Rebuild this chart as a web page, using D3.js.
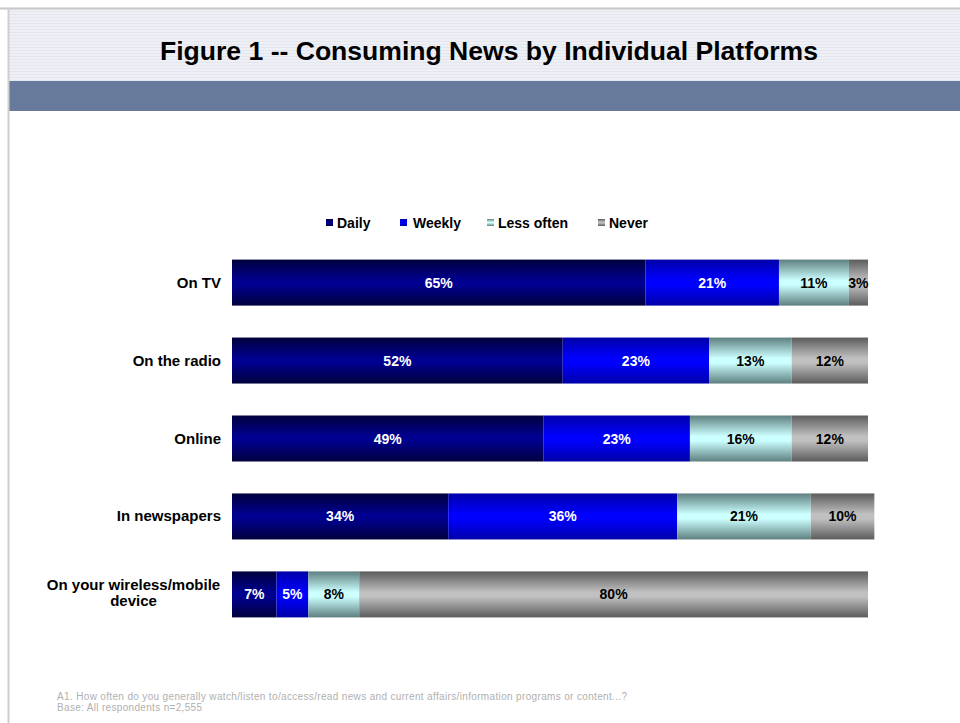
<!DOCTYPE html>
<html>
<head>
<meta charset="utf-8">
<script src="https://cdn.jsdelivr.net/npm/d3@7/dist/d3.min.js"></script>
<style>
  html, body { margin: 0; padding: 0; background: #fff; }
  svg { display: block; font-family: "Liberation Sans", Arial, sans-serif; }
</style>
</head>
<body>
<svg id="chart" width="960" height="723"></svg>
<script>
// Survey platforms (top to bottom)
const categories = ["On TV", "On the radio", "Online", "In newspapers", "On your wireless/mobile device"];
const seriesNames = ["Daily", "Weekly", "Less often", "Never"];
// Share of respondents (%) per frequency
const daily     = [65, 52, 49, 34, 7];
const weekly    = [21, 23, 23, 36, 5];
const lessOften = [11, 13, 16, 21, 8];
const never     = [3, 12, 12, 10, 80];

const seriesValues = [daily, weekly, lessOften, never];
const rows = categories.map((c, i) => {
  const r = { category: c };
  seriesNames.forEach((s, k) => r[s] = seriesValues[k][i]);
  return r;
});

const svg = d3.select("#chart");
const W = 960, H = 723;

// Page frame and header
svg.append("rect").attr("x", 0).attr("y", 0).attr("width", W).attr("height", H).attr("fill", "#fff");

const defs = svg.append("defs");
const stripe = defs.append("pattern").attr("id", "hdrStripe")
  .attr("patternUnits", "userSpaceOnUse").attr("width", 4).attr("height", 3);
stripe.append("rect").attr("width", 4).attr("height", 3).attr("fill", "#eef0f5");
stripe.append("rect").attr("y", 2).attr("width", 4).attr("height", 1).attr("fill", "#e3e6ee");

svg.append("rect").attr("x", 8).attr("y", 9).attr("width", W - 8).attr("height", 72).attr("fill", "url(#hdrStripe)");
svg.append("rect").attr("x", 8).attr("y", 81).attr("width", W - 8).attr("height", 30).attr("fill", "#677a9b");
svg.append("line").attr("x1", 0).attr("x2", W).attr("y1", 8.5).attr("y2", 8.5).attr("stroke", "#c8c8c8").attr("stroke-width", 2);
svg.append("line").attr("x1", 8.5).attr("x2", 8.5).attr("y1", 8).attr("y2", H).attr("stroke", "#cfcfcf").attr("stroke-width", 2);

svg.append("text")
  .attr("x", 489).attr("y", 60)
  .attr("text-anchor", "middle")
  .attr("font-size", 25).attr("font-weight", "bold").attr("fill", "#000")
  .attr("textLength", 658).attr("lengthAdjust", "spacingAndGlyphs")
  .text("Figure 1 -- Consuming News by Individual Platforms");

// Bar fills: vertical shading, darker at edges
const fills = {
  "Daily":      ["#00003c", "#000090"],
  "Weekly":     ["#0000a8", "#0000ff"],
  "Less often": ["#5e7f7f", "#ccffff"],
  "Never":      ["#5c5c5c", "#c0c0c0"]
};
seriesNames.forEach((s, k) => {
  const g = defs.append("linearGradient").attr("id", "g" + k)
    .attr("x1", 0).attr("x2", 0).attr("y1", 0).attr("y2", 1);
  const [edge, mid] = fills[s];
  g.append("stop").attr("offset", "0%").attr("stop-color", edge);
  g.append("stop").attr("offset", "45%").attr("stop-color", mid);
  g.append("stop").attr("offset", "55%").attr("stop-color", mid);
  g.append("stop").attr("offset", "100%").attr("stop-color", edge);
});

const x = d3.scaleLinear().domain([0, 100]).range([232, 868]);
const y = d3.scaleBand().domain(categories).range([244, 633]).paddingInner(0.41).paddingOuter(0.2);

const stack = d3.stack().keys(seriesNames)(rows);
const labelColor = ["#fff", "#fff", "#000", "#000"];

const layers = svg.append("g").selectAll("g").data(stack).join("g")
  .attr("fill", (d, k) => `url(#g${k})`);

layers.selectAll("rect").data(d => d).join("rect")
  .attr("x", d => x(d[0]))
  .attr("y", d => y(d.data.category))
  .attr("width", d => x(d[1]) - x(d[0]))
  .attr("height", y.bandwidth());

const lbl = svg.append("g").selectAll("g").data(stack).join("g");
lbl.each(function(layer, k) {
  d3.select(this).selectAll("text").data(layer).join("text")
    .attr("x", d => (x(d[0]) + x(d[1])) / 2)
    .attr("y", d => y(d.data.category) + y.bandwidth() / 2 + 5)
    .attr("text-anchor", "middle")
    .attr("font-size", 14).attr("font-weight", "bold")
    .attr("fill", labelColor[k])
    .text(d => (d[1] - d[0]) + "%");
});

// Category labels
const catG = svg.append("g");
categories.forEach(c => {
  const cy = y(c) + y.bandwidth() / 2;
  if (c === "On your wireless/mobile device") {
    const lines = ["On your wireless/mobile", "device"];
    const t = catG.append("text").attr("font-size", 15).attr("font-weight", "bold")
      .attr("text-anchor", "middle").attr("fill", "#000");
    lines.forEach((ln, i) => {
      t.append("tspan").attr("x", 133.5).attr("y", cy - 4 + i * 16).text(ln);
    });
  } else {
    catG.append("text")
      .attr("x", 221).attr("y", cy + 5)
      .attr("text-anchor", "end")
      .attr("font-size", 15).attr("font-weight", "bold").attr("fill", "#000")
      .text(c);
  }
});

// Legend
const legendX = [326, 400, 487, 598];
const leg = svg.append("g");
seriesNames.forEach((s, k) => {
  leg.append("rect").attr("x", legendX[k]).attr("y", 219).attr("width", 7).attr("height", 7)
    .attr("fill", `url(#g${k})`);
  leg.append("text").attr("x", legendX[k] + (k === 1 ? 13 : 11)).attr("y", 228)
    .attr("font-size", 14).attr("font-weight", "bold").attr("fill", "#000").text(s);
});

// Footnote
const foot = svg.append("g").attr("font-size", 10).attr("fill", "#b0b0b0");
foot.append("text").attr("x", 57).attr("y", 700)
  .attr("textLength", 570).attr("lengthAdjust", "spacing")
  .text("A1. How often do you generally watch/listen to/access/read news and current affairs/information programs or content...?");
foot.append("text").attr("x", 57).attr("y", 711)
  .attr("textLength", 145).attr("lengthAdjust", "spacing")
  .text("Base: All respondents n=2,555");
</script>
</body>
</html>
